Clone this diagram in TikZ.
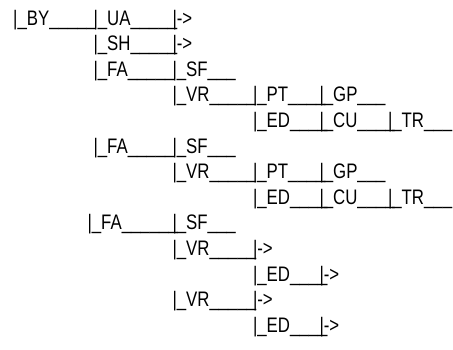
\documentclass[tikz,border=0pt]{standalone}
\usepackage{fontspec}
\setmainfont[FakeStretch=0.8]{Liberation Sans}
\begin{document}
\begin{tikzpicture}[x=1pt,y=-1pt,
	lbl/.style={anchor=base west,inner sep=0pt,font=\fontsize{21}{21}\selectfont}]
	\useasboundingbox (0,0) rectangle (453,349);
	% first branch
	\node[lbl] (by) at (13,25) {|\_BY\_\_\_\_\_};
	\node[lbl] (ua) at (93.3,25) {|\_UA\_\_\_\_\_};
	\node[lbl] (uaend) at (172.3,25) {|->};
	\node[lbl] (sh) at (93.3,50.6) {|\_SH\_\_\_\_\_};
	\node[lbl] (shend) at (172.3,50.6) {|->};
	\node[lbl] (fa1) at (93.3,76.2) {|\_FA\_\_\_\_\_};
	\node[lbl] (sf1) at (172.3,76.2) {|\_SF\_\_\_};
	\node[lbl] (vr1) at (172.3,101.8) {|\_VR\_\_\_\_\_};
	\node[lbl] (pt1) at (252.8,101.8) {|\_PT\_\_\_\_};
	\node[lbl] (gp1) at (319.3,101.8) {|\_GP\_\_\_};
	\node[lbl] (ed1) at (252.8,127.4) {|\_ED\_\_\_\_};
	\node[lbl] (cu1) at (319.3,127.4) {|\_CU\_\_\_\_};
	\node[lbl] (tr1) at (387.8,127.4) {|\_TR\_\_\_};
	% second branch
	\node[lbl] (fa2) at (93.3,153) {|\_FA\_\_\_\_\_};
	\node[lbl] (sf2) at (172.3,153) {|\_SF\_\_\_};
	\node[lbl] (vr2) at (172.3,178.6) {|\_VR\_\_\_\_\_};
	\node[lbl] (pt2) at (252.8,178.6) {|\_PT\_\_\_\_};
	\node[lbl] (gp2) at (319.3,178.6) {|\_GP\_\_\_};
	\node[lbl] (ed2) at (252.8,204.2) {|\_ED\_\_\_\_};
	\node[lbl] (cu2) at (319.3,204.2) {|\_CU\_\_\_\_};
	\node[lbl] (tr2) at (387.8,204.2) {|\_TR\_\_\_};
	% third branch
	\node[lbl] (fa3) at (87.3,229.8) {|\_FA\_\_\_\_\_\_};
	\node[lbl] (sf3) at (172.3,229.8) {|\_SF\_\_\_};
	\node[lbl] (vr3) at (172.3,255.4) {|\_VR\_\_\_\_\_};
	\node[lbl] (vr3end) at (252.8,255.4) {|->};
	\node[lbl] (ed3) at (252.8,281) {|\_ED\_\_\_\_};
	\node[lbl] (ed3end) at (319.3,281) {|->};
	\node[lbl] (vr4) at (172.3,306.6) {|\_VR\_\_\_\_\_};
	\node[lbl] (vr4end) at (252.8,306.6) {|->};
	\node[lbl] (ed4) at (252.8,332.2) {|\_ED\_\_\_\_};
	\node[lbl] (ed4end) at (319.3,332.2) {|->};
\end{tikzpicture}
\end{document}
